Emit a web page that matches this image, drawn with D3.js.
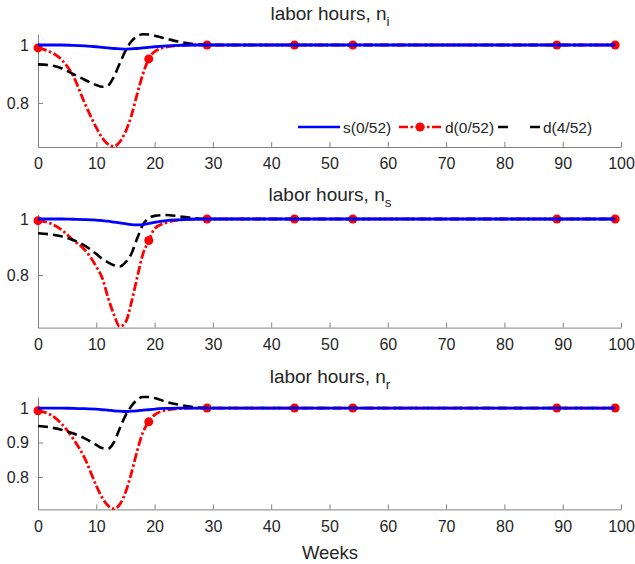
<!DOCTYPE html>
<html>
<head>
<meta charset="utf-8">
<script src="https://cdnjs.cloudflare.com/ajax/libs/d3/7.8.5/d3.min.js"></script>
<style>
  body { margin: 0; background: #fff; }
  text { font-family: "Liberation Sans", Arial, sans-serif; fill: #262626; }
</style>
</head>
<body>
<div id="chart"></div>
<script>
var weeks = [0, 2, 4, 6, 8, 10, 11, 12, 13, 14, 15, 16, 17, 18, 19, 20, 22, 24, 26, 29, 35, 44, 54, 70, 89, 99];
var markerWeeks = [0, 19, 29, 44, 54, 89, 99];
var xTicks = [0, 10, 20, 30, 40, 50, 60, 70, 80, 90, 100];
var seriesNames = ["s(0/52)", "d(0/52)", "d(4/52)"];

// panel 1: n_i
var niS = [1, 1, 1, 0.999, 0.997, 0.994, 0.992, 0.99, 0.988, 0.987, 0.986, 0.987, 0.988, 0.99, 0.992, 0.994, 0.997, 0.999, 1, 1, 1, 1, 1, 1, 1, 1];
var niD0 = [0.99, 0.977, 0.95, 0.895, 0.80, 0.715, 0.68, 0.658, 0.65, 0.665, 0.70, 0.755, 0.83, 0.90, 0.952, 0.977, 0.993, 0.998, 1, 1, 1, 1, 1, 1, 1, 1];
var niD4 = [0.933, 0.93, 0.92, 0.90, 0.88, 0.862, 0.856, 0.86, 0.89, 0.935, 0.98, 1.012, 1.03, 1.037, 1.036, 1.032, 1.022, 1.012, 1.005, 1, 1, 1, 1, 1, 1, 1];
// panel 2: n_s
var nsS = [1, 1, 1, 0.999, 0.998, 0.996, 0.994, 0.992, 0.989, 0.986, 0.983, 0.98, 0.979, 0.98, 0.984, 0.988, 0.994, 0.997, 0.999, 1, 1, 1, 1, 1, 1, 1];
var nsD0 = [0.994, 0.985, 0.962, 0.925, 0.89, 0.83, 0.79, 0.72, 0.66, 0.616, 0.63, 0.70, 0.79, 0.875, 0.923, 0.965, 0.987, 0.996, 0.999, 1, 1, 1, 1, 1, 1, 1];
var nsD4 = [0.949, 0.945, 0.938, 0.925, 0.905, 0.875, 0.858, 0.845, 0.835, 0.83, 0.845, 0.875, 0.93, 0.98, 1.003, 1.011, 1.014, 1.01, 1.005, 1, 1, 1, 1, 1, 1, 1];
// panel 3: n_r
var nrS = [1, 1, 1, 0.999, 0.998, 0.997, 0.995, 0.994, 0.992, 0.991, 0.99, 0.991, 0.992, 0.994, 0.995, 0.997, 0.999, 1, 1, 1, 1, 1, 1, 1, 1, 1];
var nrD0 = [0.992, 0.982, 0.955, 0.912, 0.855, 0.775, 0.74, 0.717, 0.708, 0.72, 0.755, 0.81, 0.875, 0.93, 0.96, 0.98, 0.994, 0.998, 1, 1, 1, 1, 1, 1, 1, 1];
var nrD4 = [0.948, 0.944, 0.937, 0.927, 0.912, 0.893, 0.884, 0.882, 0.9, 0.94, 0.978, 1.005, 1.024, 1.032, 1.032, 1.029, 1.018, 1.01, 1.004, 1, 1, 1, 1, 1, 1, 1];

var panels = [
  { sub: "i", s: niS, d0: niD0, d4: niD4, yDomain: [0.648, 1.038], yTicks: [0.8, 1], top: 34, bottom: 147, legend: true },
  { sub: "s", s: nsS, d0: nsD0, d4: nsD4, yDomain: [0.612, 1.016], yTicks: [0.8, 1], top: 214.5, bottom: 327.6 },
  { sub: "r", s: nrS, d0: nrD0, d4: nrD4, yDomain: [0.706, 1.032], yTicks: [0.8, 0.9, 1], top: 397, bottom: 509.4 }
];
var titleY = [20, 201, 383];

var W = 635, H = 564;
var svg = d3.select('#chart').append('svg').attr('width', W).attr('height', H);

var x = d3.scaleLinear().domain([0, 100]).range([38, 621]);
var axisColor = '#808080';

panels.forEach(function(p, pi) {
  var y = d3.scaleLinear().domain(p.yDomain).range([p.bottom, p.top]);
  var g = svg.append('g');

  // x axis
  var xa = g.append('g').attr('transform', 'translate(0,' + p.bottom + ')')
    .call(d3.axisBottom(x).tickValues(xTicks).tickSizeInner(-5).tickSizeOuter(0).tickPadding(11).tickFormat(d3.format('d')));
  // y axis
  var ya = g.append('g').attr('transform', 'translate(38,0)')
    .call(d3.axisLeft(y).tickValues(p.yTicks).tickSizeInner(-5).tickSizeOuter(0).tickPadding(9).tickFormat(function(d) { return d === 1 ? '1' : d3.format('.1f')(d); }));
  [xa, ya].forEach(function(a) {
    a.select('.domain').attr('stroke', axisColor);
    a.selectAll('.tick line').attr('stroke', axisColor);
    a.selectAll('text').attr('font-size', 16).attr('fill', '#262626')
      .attr('font-family', '"Liberation Sans", Arial, sans-serif');
  });

  var line = function(vals) {
    return d3.line().x(function(d, i) { return x(weeks[i]); }).y(function(d) { return y(d); })
      .curve(d3.curveMonotoneX)(vals);
  };

  g.append('path').attr('d', line(p.d0)).attr('fill', 'none').attr('stroke', '#ff0000')
    .attr('stroke-width', 2.8).attr('stroke-dasharray', '9,2.5,2.5,2.5');
  g.selectAll('circle.mk').data(markerWeeks).enter().append('circle')
    .attr('cx', function(w) { return x(w); })
    .attr('cy', function(w) { return y(p.d0[weeks.indexOf(w)]); })
    .attr('r', 4.5).attr('fill', '#ff0000');
  g.append('path').attr('d', line(p.d4)).attr('fill', 'none').attr('stroke', '#000')
    .attr('stroke-width', 2.6).attr('stroke-dasharray', '10,5');
  g.append('path').attr('d', line(p.s)).attr('fill', 'none').attr('stroke', '#0000ff')
    .attr('stroke-width', 2.8);

  // title
  var t = svg.append('text').attr('x', 330).attr('y', titleY[pi]).attr('text-anchor', 'middle')
    .attr('font-size', 19);
  t.append('tspan').text('labor hours, n');
  t.append('tspan').attr('dy', 6).attr('font-size', 13.5).text(p.sub);

  if (p.legend) {
    var ly = 127;
    var lg = svg.append('g');
    var items = [
      { x0: 298, color: '#0000ff', dash: null, marker: false, tx: 343 },
      { x0: 399, color: '#ff0000', dash: '9,2.5,2.5,2.5', marker: true, tx: 445 },
      { x0: 498, color: '#000', dash: '10,12,0', marker: false, tx: 543 }
    ];
    items.forEach(function(it, i) {
      lg.append('line').attr('x1', it.x0).attr('x2', it.x0 + 42).attr('y1', ly).attr('y2', ly)
        .attr('stroke', it.color).attr('stroke-width', 2.6).attr('stroke-dasharray', it.dash);
      if (it.marker) lg.append('circle').attr('cx', it.x0 + 21).attr('cy', ly).attr('r', 4.5).attr('fill', it.color);
      lg.append('text').attr('x', it.tx).attr('y', ly + 5.5).attr('font-size', 15.5).text(seriesNames[i]);
    });
  }
});

svg.append('text').attr('x', 330).attr('y', 559).attr('text-anchor', 'middle').attr('font-size', 18.5).text('Weeks');
</script>
</body>
</html>
